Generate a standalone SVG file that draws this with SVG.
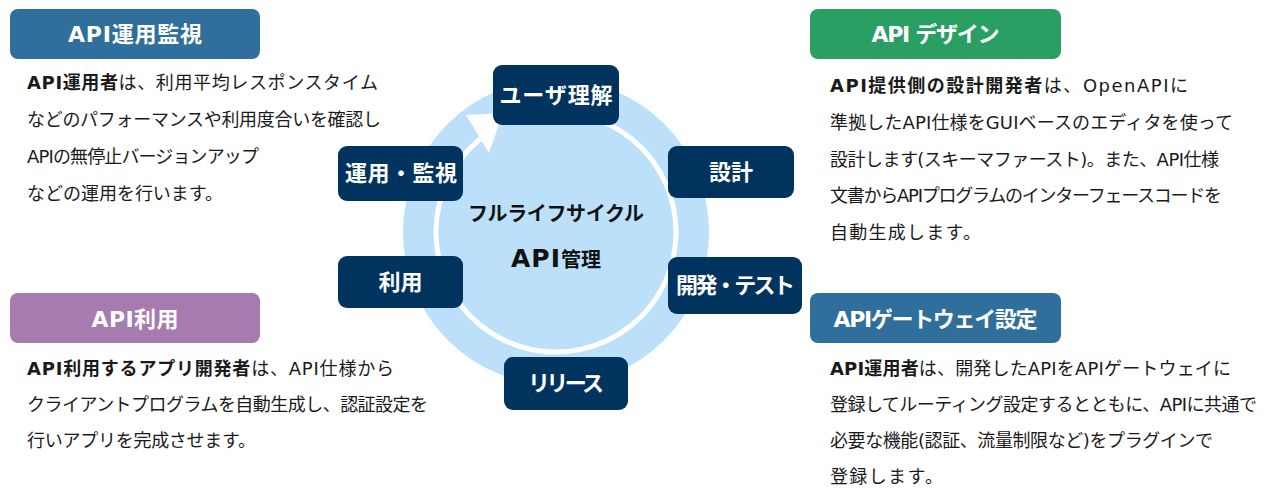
<svg xmlns="http://www.w3.org/2000/svg" width="1268" height="490" viewBox="0 0 1268 490">
<style>
text{font-family:"DejaVu Sans","Noto Sans CJK JP",sans-serif;}
.node rect{fill:#00345E;}
.node text{fill:#fff;font-size:22px;font-weight:bold;text-anchor:middle;}
.hdr text{fill:#fff;font-size:22px;font-weight:bold;text-anchor:middle;}
.body{fill:#1a1a1a;font-size:18px;}
.b{font-weight:bold;}
.ctr{fill:#111;font-size:20px;font-weight:bold;text-anchor:middle;}
.ring{fill:none;stroke:#fff;stroke-width:5;}
</style>
<rect width="1268" height="490" fill="#fff"/>
<circle id="disk" cx="556" cy="232" r="153" fill="#BDE0FA"/>
<g id="connectors">
<path class="ring" d="M587.1,116.1 A120,120 0 1 1 480.5,138.7"/>
<polygon points="466,115 489,153 503,113" fill="#fff"/>
</g>
<g id="center-label">
<text class="ctr" x="556" y="221" textLength="176" lengthAdjust="spacing">フルライフサイクル</text>
<text class="ctr" x="556" y="267"><tspan font-size="25" letter-spacing="1">API</tspan>管理</text>
</g>
<g id="node-user" class="node"><rect x="493" y="65" width="126" height="60" rx="9"/><text x="556" y="103" textLength="113" lengthAdjust="spacing">ユーザ理解</text></g>
<g id="node-design" class="node"><rect x="668" y="146" width="126" height="52" rx="9"/><text x="731" y="180">設計</text></g>
<g id="node-dev" class="node"><rect x="668" y="257" width="134" height="57" rx="9"/><text x="735.5" y="293" textLength="119" lengthAdjust="spacing">開発・テスト</text></g>
<g id="node-release" class="node"><rect x="504" y="357" width="124" height="53" rx="9"/><text x="566" y="391" textLength="76" lengthAdjust="spacing">リリース</text></g>
<g id="node-use" class="node"><rect x="338" y="256" width="125" height="52" rx="9"/><text x="400.5" y="290">利用</text></g>
<g id="node-ops" class="node"><rect x="338" y="146" width="125" height="55" rx="9"/><text x="401" y="181" textLength="112" lengthAdjust="spacing">運用・監視</text></g>

<g id="panel-ops">
<g class="hdr"><rect x="10" y="9" width="250" height="50" rx="8" fill="#306F9C"/><text x="135" y="42" textLength="134" lengthAdjust="spacing">API運用監視</text></g>
<text class="body" x="27" y="89" textLength="351" lengthAdjust="spacing"><tspan class="b">API運用者</tspan>は、利用平均レスポンスタイム</text>
<text class="body" x="27" y="126" textLength="354" lengthAdjust="spacing">などのパフォーマンスや利用度合いを確認し</text>
<text class="body" x="27" y="163" textLength="232" lengthAdjust="spacing">APIの無停止バージョンアップ</text>
<text class="body" x="27" y="200" textLength="196" lengthAdjust="spacing">などの運用を行います。</text>
</g>
<g id="panel-design">
<g class="hdr"><rect x="810" y="9" width="251" height="50" rx="8" fill="#2A9F64"/><text x="935.5" y="42" textLength="128" lengthAdjust="spacing">API デザイン</text></g>
<text class="body" x="830" y="92" textLength="358" lengthAdjust="spacing"><tspan class="b">API提供側の設計開発者</tspan>は、OpenAPIに</text>
<text class="body" x="830" y="129" textLength="403" lengthAdjust="spacing">準拠したAPI仕様をGUIベースのエディタを使って</text>
<text class="body" x="830" y="165.5" textLength="389" lengthAdjust="spacing">設計します(スキーマファースト)。また、API仕様</text>
<text class="body" x="830" y="202" textLength="392" lengthAdjust="spacing">文書からAPIプログラムのインターフェースコードを</text>
<text class="body" x="830" y="238.5" textLength="151" lengthAdjust="spacing">自動生成します。</text>
</g>
<g id="panel-use">
<g class="hdr"><rect x="10" y="293" width="250" height="50" rx="8" fill="#A77BAF"/><text x="135" y="326.5" textLength="87" lengthAdjust="spacing">API利用</text></g>
<text class="body" x="27" y="375" textLength="367" lengthAdjust="spacing"><tspan class="b">API利用するアプリ開発者</tspan>は、API仕様から</text>
<text class="body" x="27" y="411" textLength="401" lengthAdjust="spacing">クライアントプログラムを自動生成し、認証設定を</text>
<text class="body" x="27" y="447" textLength="229" lengthAdjust="spacing">行いアプリを完成させます。</text>
</g>
<g id="panel-gateway">
<g class="hdr"><rect x="810" y="293" width="251" height="50" rx="8" fill="#306F9C"/><text x="935.5" y="326.5" textLength="204" lengthAdjust="spacing">APIゲートウェイ設定</text></g>
<text class="body" x="830" y="375" textLength="401" lengthAdjust="spacing"><tspan class="b">API運用者</tspan>は、開発したAPIをAPIゲートウェイに</text>
<text class="body" x="830" y="411" textLength="427" lengthAdjust="spacing">登録してルーティング設定するとともに、APIに共通で</text>
<text class="body" x="830" y="447" textLength="383" lengthAdjust="spacing">必要な機能(認証、流量制限など)をプラグインで</text>
<text class="body" x="830" y="483" textLength="113" lengthAdjust="spacing">登録します。</text>
</g>
</svg>
